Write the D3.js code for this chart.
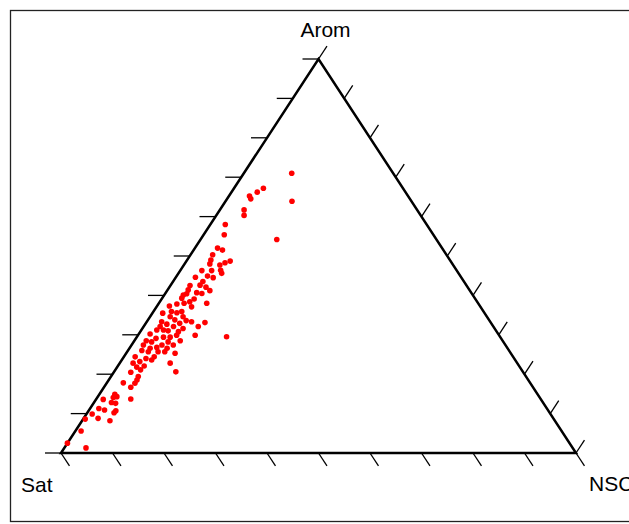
<!DOCTYPE html>
<html>
<head>
<meta charset="utf-8">
<script src="https://cdn.jsdelivr.net/npm/d3@7"></script>
<style>
  html, body { margin: 0; padding: 0; background: #fff; }
  svg { display: block; }
</style>
</head>
<body>
<script>
// Sample composition (%): saturates, aromatics, NSO compounds
const sat = [
  19.7, 23.2, 27.1, 28.8, 30.8, 30.9, 33.6, 34.3, 31.0, 39.1, 40.6, 43.6, 42.9,
  45.4, 46.4, 47.1, 45.3, 44.0, 42.8, 45.8, 46.0, 47.6, 49.5, 49.1, 48.2, 51.6,
  50.7, 51.7, 53.7, 50.8, 50.5, 54.6, 53.3, 52.4, 55.4, 56.2, 56.9, 54.6, 55.8,
  57.1, 58.6, 52.7, 60.3, 56.1, 58.6, 59.7, 60.6, 62.5, 59.0, 61.5, 61.0, 58.0,
  55.5, 58.9, 60.5, 63.8, 63.1, 57.3, 62.1, 64.7, 60.5, 61.8, 63.7, 64.5, 65.8,
  67.6, 59.0, 62.6, 64.1, 65.4, 53.1, 62.6, 67.0, 68.3, 69.2, 65.1, 66.7, 64.5,
  70.3, 68.0, 69.4, 66.1, 67.0, 68.3, 65.2, 71.3, 70.2, 69.7, 71.5, 70.6, 73.4,
  73.1, 67.4, 72.8, 74.4, 67.4, 76.2, 75.3, 74.6, 76.0, 74.0,
  76.8, 78.1, 79.0, 79.6, 82.1, 82.8, 82.0, 85.0, 83.8, 83.1, 86.1, 87.0, 84.0,
  84.6, 89.0, 88.4, 91.0, 86.4, 93.3, 97.5, 94.5
];
const arom = [
  71.0, 63.9, 67.2, 66.2, 65.2, 64.5, 61.7, 60.3, 54.2, 58.0, 55.4, 52.0, 51.5,
  50.3, 49.0, 48.0, 47.7, 48.3, 48.7, 46.4, 45.6, 46.3, 46.3, 44.9, 44.5, 44.6,
  43.5, 42.6, 42.5, 42.1, 41.2, 41.4, 40.7, 40.5, 40.4, 40.1, 39.3, 39.1, 38.4,
  38.0, 37.8, 38.0, 37.3, 37.1, 35.9, 35.6, 35.9, 35.5, 34.6, 34.6, 33.8, 33.3,
  33.1, 33.6, 32.9, 33.3, 32.7, 32.1, 32.1, 32.1, 31.6, 30.8, 31.0, 31.2, 31.2,
  30.2, 29.9, 29.9, 29.4, 29.4, 29.5, 28.5, 29.1, 28.2, 28.5, 28.2, 27.4, 27.4,
  27.4, 26.8, 26.6, 26.6, 25.7, 25.7, 25.3, 26.0, 25.7, 24.4, 24.0, 23.6, 24.4,
  23.2, 22.8, 22.1, 21.8, 20.6, 20.5, 19.4, 22.8, 18.5, 21.1,
  17.7, 16.7, 17.8, 13.7, 14.9, 14.1, 14.3, 13.6, 12.8, 12.6, 10.9, 11.3, 10.7,
  10.2, 9.9, 8.8, 8.6, 8.2, 5.6, 2.5, 1.3
];
const nsc = [
  9.3, 12.9, 5.7, 5.0, 4.0, 4.6, 4.7, 5.4, 14.8, 2.9, 4.0, 4.4, 5.6,
  4.3, 4.6, 4.9, 7.0, 7.7, 8.5, 7.8, 8.4, 6.1, 4.2, 6.0, 7.3, 3.8,
  5.8, 5.7, 3.8, 7.1, 8.3, 4.0, 6.0, 7.1, 4.2, 3.7, 3.8, 6.3, 5.8,
  4.9, 3.6, 9.3, 2.4, 6.8, 5.5, 4.7, 3.5, 2.0, 6.4, 3.9, 5.2, 8.7,
  11.4, 7.5, 6.6, 2.9, 4.2, 10.6, 5.8, 3.2, 7.9, 7.4, 5.3, 4.3, 3.0,
  2.2, 11.1, 7.5, 6.5, 5.2, 17.4, 8.9, 3.9, 3.5, 2.3, 6.7, 5.9, 8.1,
  2.3, 5.2, 4.0, 7.3, 7.3, 6.0, 9.5, 2.7, 4.1, 5.9, 4.5, 5.8, 2.2,
  3.7, 9.8, 5.1, 3.8, 12.0, 3.3, 5.3, 2.6, 5.5, 4.9,
  5.5, 5.2, 3.2, 6.7, 3.0, 3.1, 3.7, 1.4, 3.4, 4.3, 3.0, 1.7, 5.3,
  5.2, 1.1, 2.8, 0.4, 5.4, 1.1, 0.0, 4.2
];
const cornerLabels = ["Sat", "Arom", "NSC"];
const tickValues = d3.range(0, 101, 10);

const width = 629, height = 524;
const svg = d3.select("body").append("svg")
  .attr("width", width).attr("height", height);

// plot frame
svg.append("rect")
  .attr("x", 10.5).attr("y", 10.5)
  .attr("width", 640).attr("height", 511)
  .attr("fill", "none").attr("stroke", "#222").attr("stroke-width", 1.3);

// horizontal position: NSC share plus half the aromatic share; vertical: aromatic share
const xs = d3.scaleLinear().domain([0, 100]).range([61, 576]);
const ys = d3.scaleLinear().domain([0, 100]).range([453, 59]);

function project(s, a, n) {
  const t = s + a + n;
  const A = 100 * a / t, N = 100 * n / t;
  return [xs(N + A / 2), ys(A)];
}

const vSat = project(100, 0, 0);
const vArom = project(0, 100, 0);
const vNsc = project(0, 0, 100);

function dir(p, q, len) {
  const dx = q[0] - p[0], dy = q[1] - p[1];
  const l = Math.hypot(dx, dy);
  return [dx / l * len, dy / l * len];
}

// ticks: each edge's ticks run parallel to the following edge
const tickSets = [
  { pts: tickValues.map(v => project(100 - v, v, 0)), d: dir(vNsc, vSat, 16) },   // Sat–Arom edge
  { pts: tickValues.map(v => project(0, 100 - v, v)), d: dir(vSat, vArom, 15.5) }, // Arom–NSC edge
  { pts: tickValues.map(v => project(100 - v, 0, v)), d: dir(vArom, vNsc, 15.5) }  // Sat–NSC edge
];

const tickG = svg.append("g").attr("stroke", "#000").attr("stroke-width", 1.3);
tickSets.forEach(set => {
  tickG.selectAll(null)
    .data(set.pts)
    .enter().append("line")
    .attr("x1", d => d[0]).attr("y1", d => d[1])
    .attr("x2", d => d[0] + set.d[0]).attr("y2", d => d[1] + set.d[1]);
});

// triangle outline
svg.append("path")
  .attr("d", d3.line()([vSat, vArom, vNsc]) + "Z")
  .attr("fill", "none").attr("stroke", "#000").attr("stroke-width", 2.5)
  .attr("stroke-linejoin", "miter");

// samples
svg.append("g").selectAll("circle")
  .data(d3.range(sat.length))
  .enter().append("circle")
  .attr("cx", i => project(sat[i], arom[i], nsc[i])[0])
  .attr("cy", i => project(sat[i], arom[i], nsc[i])[1])
  .attr("r", 2.8)
  .attr("fill", "#ff0000");

// corner labels
const font = "'Liberation Sans', Arial, Helvetica, sans-serif";
const labelPos = [
  { x: vSat[0] - 40, y: vSat[1] + 39, anchor: "start" },
  { x: vArom[0] + 7, y: vArom[1] - 22, anchor: "middle" },
  { x: vNsc[0] + 13, y: vNsc[1] + 38, anchor: "start" }
];
svg.append("g").selectAll("text")
  .data(cornerLabels)
  .enter().append("text")
  .attr("x", (d, i) => labelPos[i].x)
  .attr("y", (d, i) => labelPos[i].y)
  .attr("text-anchor", (d, i) => labelPos[i].anchor)
  .attr("font-family", font)
  .attr("font-size", 21)
  .attr("fill", "#000")
  .text(d => d);
</script>
</body>
</html>
